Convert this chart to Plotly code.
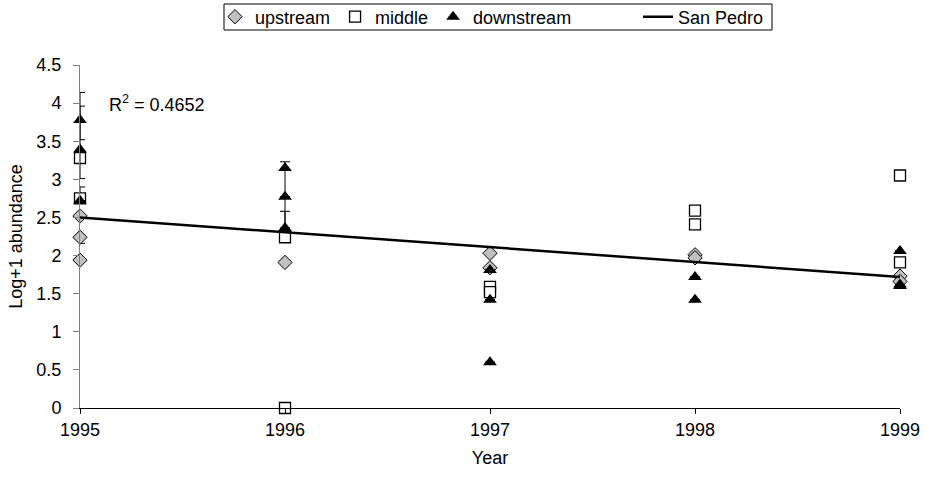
import plotly.graph_objects as go

# ---- data ----
up_years = [1995, 1995, 1995, 1996, 1997, 1997, 1998, 1998, 1999, 1999]
up_vals = [2.52, 2.24, 1.94, 1.91, 2.03, 1.84, 2.01, 1.97, 1.73, 1.66]
up_err_plus = [0, 0, 0, 0, 0, 0, 0, 0, 0, 0]
up_err_minus = [0, 0.08, 0, 0, 0, 0, 0, 0, 0, 0]

mid_years = [1995, 1995, 1996, 1996, 1997, 1997, 1998, 1998, 1999, 1999]
mid_vals = [3.28, 2.75, 2.24, 0.0, 1.59, 1.52, 2.59, 2.41, 3.05, 1.91]
mid_err_plus = [0, 0.15, 0, 0, 0, 0, 0, 0, 0, 0]
mid_err_minus = [0, 0, 0, 0, 0, 0, 0, 0, 0, 0]

down_years = [1995, 1995, 1995, 1996, 1996, 1996, 1997, 1997, 1997, 1998, 1998, 1999, 1999, 1999]
down_vals = [3.78, 3.39, 2.72, 3.15, 2.77, 2.36, 1.81, 1.42, 0.60, 1.72, 1.42, 2.06, 1.62, 1.60]
down_err_plus = [0.36, 0.57, 0, 0.08, 0, 0.22, 0, 0, 0, 0, 0, 0, 0, 0]
down_err_minus = [0.26, 0.38, 0, 0.38, 0.41, 0, 0, 0, 0, 0, 0, 0, 0, 0]

trend_years = [1995, 1999]
trend_vals = [2.50, 1.72]
r2_text = "R<sup>2</sup> = 0.4652"

year_ticks = [1995, 1996, 1997, 1998, 1999]
y_ticks = [0, 0.5, 1, 1.5, 2, 2.5, 3, 3.5, 4, 4.5]
y_tick_labels = ["0", "0.5", "1", "1.5", "2", "2.5", "3", "3.5", "4", "4.5"]

FONT = "Liberation Sans, Arial, sans-serif"
FS = 18

fig = go.Figure()

def err(plus, minus):
    return dict(type="data", symmetric=False, array=plus, arrayminus=minus,
                color="black", thickness=1, width=5)

fig.add_trace(go.Scatter(
    x=up_years, y=up_vals, mode="markers", name="upstream", legend="legend",
    marker=dict(symbol="diamond", size=11, color="#c0c0c0",
                line=dict(color="black", width=1)),
    error_y=err(up_err_plus, up_err_minus), cliponaxis=False))

fig.add_trace(go.Scatter(
    x=mid_years, y=mid_vals, mode="markers", name="middle", legend="legend",
    marker=dict(symbol="square", size=11, color="white",
                line=dict(color="black", width=1.3)),
    error_y=err(mid_err_plus, mid_err_minus), cliponaxis=False))

fig.add_trace(go.Scatter(
    x=down_years, y=down_vals, mode="markers", name="downstream", legend="legend",
    marker=dict(symbol="triangle-up", size=12, color="black",
                line=dict(color="black", width=0)),
    error_y=err(down_err_plus, down_err_minus), cliponaxis=False))

fig.add_trace(go.Scatter(
    x=trend_years, y=trend_vals, mode="lines", name="San Pedro", legend="legend2",
    line=dict(color="black", width=2.5), cliponaxis=False))

fig.add_annotation(x=1995.13, y=4.0, xref="x", yref="y", text=r2_text,
                   showarrow=False, xanchor="left", yanchor="middle",
                   font=dict(family=FONT, size=FS, color="black"))

# legend frame enclosing both legend groups
fig.add_shape(type="rect", xref="paper", yref="paper",
              x0=(224 - 80) / 820, x1=(772 - 80) / 820,
              y0=(408 - 30) / 343, y1=(408 - 4) / 343,
              line=dict(color="black", width=1), fillcolor="rgba(0,0,0,0)")

leg_common = dict(orientation="h", xref="container", yref="container",
                  yanchor="middle", y=1 - 17 / 481, xanchor="left",
                  borderwidth=0, bgcolor="rgba(0,0,0,0)",
                  font=dict(family=FONT, size=FS), itemclick=False,
                  tracegroupgap=0)

fig.update_layout(
    width=925, height=481,
    margin=dict(l=80, r=25, t=65, b=73, autoexpand=False),
    paper_bgcolor="white", plot_bgcolor="white",
    font=dict(family=FONT, size=FS, color="black"),
    showlegend=True,
    legend=dict(leg_common, x=215 / 925),
    legend2=dict(leg_common, x=638 / 925),
    xaxis=dict(range=[1995, 1999], tickvals=year_ticks,
               ticktext=[str(y) for y in year_ticks], automargin=False,
               showgrid=False, zeroline=False, showline=True, linecolor="black",
               linewidth=1, ticks="outside", ticklen=5, tickcolor="black",
               title=dict(text="Year", font=dict(family=FONT, size=FS), standoff=12)),
    yaxis=dict(range=[0, 4.5], tickvals=y_ticks, ticktext=y_tick_labels, automargin=False,
               showgrid=False, zeroline=False, showline=True, linecolor="#808080",
               linewidth=1, ticks="outside", ticklen=6, tickcolor="#808080",
               ticklabelstandoff=8,
               title=dict(text="Log+1 abundance", font=dict(family=FONT, size=FS), standoff=9)),
)

fig.write_html("out.html")
